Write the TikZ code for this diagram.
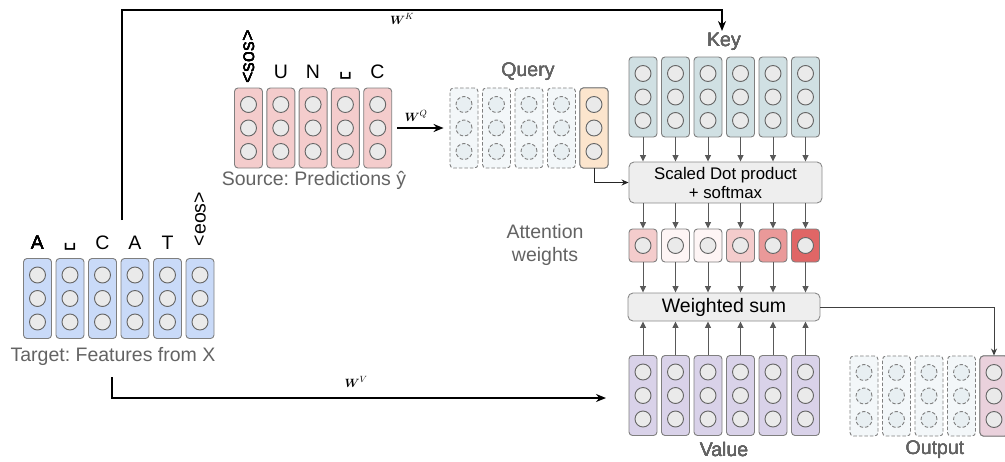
\documentclass[tikz,border=0pt]{standalone}
\usepackage{amsmath}
\usepackage{fontspec}
\setmainfont{Liberation Sans}
\newfontfamily\symfont{DejaVu Sans}
\usetikzlibrary{calc,arrows.meta}
\frenchspacing

\definecolor{colborder}{HTML}{7F7F7F}
\definecolor{dotborder}{HTML}{666666}
\definecolor{dotfill}{HTML}{EAEAEA}
\definecolor{ghostfill}{HTML}{F3F7F9}
\definecolor{ghostdot}{HTML}{E8EFF2}
\definecolor{tblue}{HTML}{C9DAF8}
\definecolor{spink}{HTML}{F4CCCC}
\definecolor{kteal}{HTML}{D0E0E3}
\definecolor{vpurple}{HTML}{D9D2E9}
\definecolor{qorange}{HTML}{FCE5CD}
\definecolor{opink}{HTML}{EAD1DC}
\definecolor{boxfill}{HTML}{EEEEEE}
\definecolor{boxborder}{HTML}{8A8A8A}
\definecolor{lblgray}{HTML}{636363}
\definecolor{arrgray}{HTML}{595959}
\definecolor{wA}{HTML}{F4CCCC}
\definecolor{wB}{HTML}{FEF5F5}
\definecolor{wC}{HTML}{FEF5F5}
\definecolor{wD}{HTML}{F4CCCC}
\definecolor{wE}{HTML}{EA9999}
\definecolor{wF}{HTML}{E06666}

% one embedding column: a rounded box holding three units
\newcommand\vecnode[4]{%
  \node[#3] (#1) at (#2) {};
  \foreach \k/\dy in {1/-23.5,2/0,3/23.5}
    \node[#4] (#1-\k) at ($(#1.center)+(0,\dy)$) {};
}

\begin{document}
\begin{tikzpicture}[x=1pt,y=-1pt,
  vec/.style={draw=colborder, line width=0.9pt, rounded corners=3.5pt,
    minimum width=28pt, minimum height=80pt, inner sep=0pt},
  ghost/.style={vec, draw=gray, dash pattern=on 3.5pt off 2pt, fill=ghostfill},
  wcell/.style={draw=colborder, line width=0.9pt, rounded corners=3.5pt,
    minimum width=28pt, minimum height=33pt, inner sep=0pt},
  unit/.style={circle, draw=dotborder, fill=dotfill, line width=0.9pt,
    minimum size=16pt, inner sep=0pt},
  ghostunit/.style={unit, draw=gray, fill=ghostdot, dash pattern=on 3.5pt off 2pt},
  lbl/.style={text=lblgray, font=\fontsize{19.5}{23.5}\selectfont, inner sep=1pt},
  tok/.style={text=black, font=\fontsize{19.5}{23.5}\selectfont, inner sep=0pt},
  blank/.style={text=black, font=\symfont\fontsize{21}{23}\selectfont, inner sep=0pt},
  opbox/.style={draw=boxborder, fill=boxfill, line width=0.9pt, rounded corners=5pt, inner sep=0pt},
  proj/.style={draw=black, line width=1.8pt, -{Stealth[length=10pt,width=8pt]}},
  thinarr/.style={draw=black!85, line width=1pt, -{Stealth[length=7pt,width=6pt]}},
  flow/.style={draw=arrgray, line width=1pt, -{Triangle[length=6.5pt,width=6pt]}},
  wlbl/.style={font=\fontsize{12.5}{14}\selectfont, inner sep=0pt}
]
\useasboundingbox (0,0) rectangle (1005,461);

% ---------- target sequence ----------
\foreach \i in {1,...,6}
  \vecnode{t\i}{{37.5+32.5*(\i-1)},298.5}{vec,fill=tblue}{unit}
\node[tok] (tA) at (37.5,243) {A};
\node[blank] (tS) at (70,247) {␣};
\node[tok] (tC) at (102.5,243) {C};
\node[tok] (tA2) at (135,243) {A};
\node[tok] (tT) at (167.5,243) {T};
\node[tok, rotate=90] (tE) at (200,219) {<eos>};
\node[lbl] (tlabel) at (113,356) {Target: Features from X};

% ---------- source sequence ----------
\foreach \i in {1,...,5}
  \vecnode{s\i}{{248.5+32.3*(\i-1)},128}{vec,fill=spink}{unit}
\node[tok, rotate=90] (sS) at (248.5,57) {<sos>};
\node[tok] (sU) at (281,72) {U};
\node[tok] (sN) at (313,72) {N};
\node[blank] (sB) at (345.5,76) {␣};
\node[tok] (sC) at (377.5,72) {C};
\node[lbl] (slabel) at (314,180) {Source: Predictions ŷ};

% ---------- query ----------
\foreach \i/\x in {1/464,2/496.5,3/529,4/561.5}
  \vecnode{q\i}{\x,128}{ghost}{ghostunit}
\vecnode{q5}{594,128}{vec,fill=qorange}{unit}
\node[lbl] (qlabel) at (528,72) {Query};

% ---------- keys ----------
\foreach \i in {1,...,6}
  \vecnode{k\i}{{643+32.5*(\i-1)},97}{vec,fill=kteal}{unit}
\node[lbl] (klabel) at (724,42) {Key};

% ---------- scaled dot product ----------
\node[opbox, minimum width=193pt, minimum height=41pt, align=center,
  font=\fontsize{16.8}{19}\selectfont] (sdp) at (725.5,182.5)
  {Scaled Dot product\\+ softmax};

% ---------- attention weights ----------
\foreach \i/\c in {1/wA,2/wB,3/wC,4/wD,5/wE,6/wF} {
  \node[wcell, fill=\c] (a\i) at ({643+32.5*(\i-1)},245.5) {};
  \node[unit] (a\i-1) at (a\i.center) {};
}
\node[lbl, align=center] (alabel) at (545,245) {Attention\\weights};

% ---------- weighted sum ----------
\node[opbox, minimum width=192pt, minimum height=28pt,
  font=\fontsize{19.5}{22}\selectfont] (ws) at (724,307) {Weighted sum};

% ---------- values ----------
\foreach \i in {1,...,6}
  \vecnode{v\i}{{643+32.5*(\i-1)},395.5}{vec,fill=vpurple}{unit}
\node[lbl] (vlabel) at (724,450) {Value};

% ---------- output ----------
\foreach \i/\x in {1/864,2/896.5,3/929,4/961.5}
  \vecnode{o\i}{\x,396}{ghost}{ghostunit}
\vecnode{o5}{994,396}{vec,fill=opink}{unit}
\node[lbl] (olabel) at (935,450) {Output};

% ---------- projections ----------
\coordinate (kstart) at (122,220);
\coordinate (ktop) at (0,10);
\coordinate (ktip) at (722,31);
\draw[proj] (kstart) -- (kstart |- ktop) -- (ktip |- ktop) -- (ktip);
\node[wlbl] (wk) at (402,19) {$\boldsymbol{W}^K$};

\draw[proj, shorten <=5pt, shorten >=6pt] (s5.east) -- (q1.west);
\node[wlbl] (wq) at (416,116) {$\boldsymbol{W}^Q$};

\coordinate (vstart) at (112,377);
\coordinate (vtip) at (606,398);
\draw[proj] (vstart) |- (vtip);
\node[wlbl] (wv) at (356,382) {$\boldsymbol{W}^V$};

% ---------- attention flow ----------
\draw[thinarr] (q5.south) |- (sdp.west);
\foreach \i in {1,...,6} {
  \draw[flow] (k\i.south) -- (k\i.south |- sdp.north);
  \draw[flow] (a\i.north |- sdp.south) -- (a\i.north);
  \draw[flow] (a\i.south) -- (a\i.south |- ws.north);
  \draw[flow] (v\i.north) -- (v\i.north |- ws.south);
}
\draw[thinarr, draw=black!75] (ws.east) -| (o5.north);
\end{tikzpicture}
\end{document}
